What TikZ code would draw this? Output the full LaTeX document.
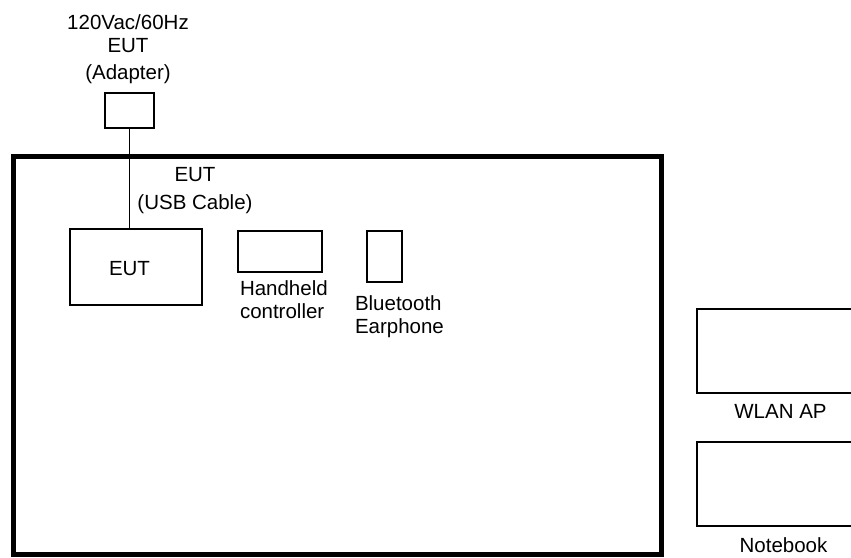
\documentclass[tikz,border=0pt]{standalone}
\usepackage{fontspec}
\setmainfont{Liberation Sans}
\begin{document}
\begin{tikzpicture}[x=1pt,y=-1pt,
  box/.style={draw=black,line width=1.5pt,fill=white,inner sep=0pt,outer sep=0pt},
  lbl/.style={inner sep=0pt,outer sep=0pt,font=\fontsize{20.5}{23}\selectfont},
  wire/.style={draw=black,line width=1.3pt}]
\useasboundingbox (0,0) rectangle (851,557);
\fill[white] (0,0) rectangle (851,557);
\clip (0,0) rectangle (851,557);
% test area
\node[draw=black,line width=5pt,inner sep=0pt,minimum width=648.5pt,minimum height=397.5pt] (room) at (337.25,355.25) {};
% adapter
\node[box,minimum width=49pt,minimum height=35pt] (adapter) at (129.5,110.5) {};
\node[lbl,align=center] (adlbl) at (128,48.7) {120Vac/60Hz\\EUT\\[4pt](Adapter)};
% EUT
\node[box,minimum width=132pt,minimum height=76pt] (eut) at (136,267) {};
\node[lbl,anchor=base] (eutlbl) at (129.5,275) {EUT};
\draw[wire] (adapter.south) -- (adapter.south |- eut.north);
\node[lbl,align=center] (usblbl) at (195,190.6) {EUT\\[5pt](USB Cable)};
% handheld
\node[box,minimum width=84pt,minimum height=41pt] (hand) at (280,251.5) {};
\node[lbl,align=left,anchor=west] (handlbl) at (240,299.5) {Handheld\\controller};
% earphone
\node[box,minimum width=35pt,minimum height=51pt] (ear) at (384.5,256.5) {};
\node[lbl,align=left,anchor=west] (earlbl) at (355,316.6) {Bluetooth\\Earphone};
% WLAN AP
\node[box,minimum width=200pt,minimum height=84pt] (ap) at (797,351) {};
\node[lbl,anchor=base] (aplbl) at (780.5,418) {WLAN AP};
% Notebook
\node[box,minimum width=200pt,minimum height=84pt] (nb) at (797,484) {};
\node[lbl,anchor=base] (nblbl) at (783.5,552) {Notebook};
\end{tikzpicture}
\end{document}
